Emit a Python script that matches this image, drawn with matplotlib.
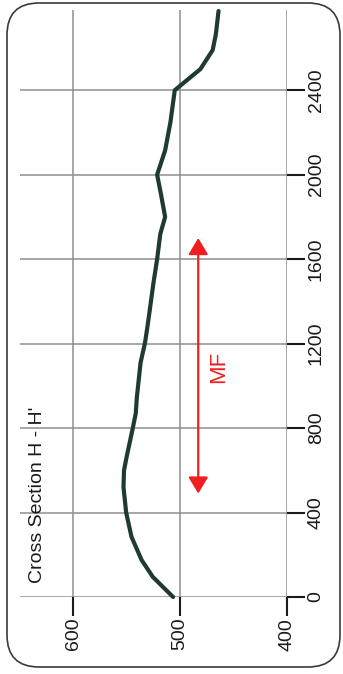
import matplotlib.pyplot as plt
from matplotlib.patches import FancyBboxPatch, FancyArrowPatch
from matplotlib.transforms import IdentityTransform

plt.rcParams['font.family'] = ['Liberation Sans', 'DejaVu Sans']

# profile along the section: distance (m) and ground elevation (m)
distance = [0, 95, 175, 285, 400, 520, 600, 665, 795, 870, 945, 1110,
            1200, 1265, 1355, 1485, 1600, 1720, 1800, 1910, 2000, 2115,
            2250, 2400, 2450, 2500, 2590, 2665, 2775]
elevation = [506.5, 525.5, 536, 545.5, 550.5, 553, 552.5, 550, 544.5, 541.5,
             540.5, 537, 533, 531, 528.5, 525, 521.5, 518.5, 514, 518,
             521.5, 514, 509, 505, 493, 481, 469.5, 466.5, 464]

dist_ticks = [0, 400, 800, 1200, 1600, 2000, 2400]
elev_ticks = [600, 500, 400]

# MF extent along the section
mf_start, mf_end, mf_elev = 490, 1700, 483

fig = plt.figure(figsize=(3.43, 6.74), dpi=100)

# rounded outer frame, drawn in pixel units
frame = FancyBboxPatch((7, 7), 333, 664, boxstyle="round,pad=0,rounding_size=32",
                       transform=IdentityTransform(), fill=False,
                       edgecolor='#3a3a3a', linewidth=1.2)
fig.patches.append(frame)

# chart is laid out sideways: elevation across, distance upward
ax = fig.add_axes([0.058, 0.1142, 0.7784, 0.871])
ax.set_xlim(650, 400)
ax.set_ylim(0, 2780)
for s in ax.spines.values():
    s.set_visible(False)

ax.set_xticks(elev_ticks)
ax.set_yticks(dist_ticks)
ax.grid(True, color='#8e8e8e', linewidth=1.1)
ax.set_axisbelow(True)

ax.tick_params(axis='x', bottom=True, length=14, width=1.5, pad=1,
               labelsize=14, labelrotation=90, colors='#1a1a1a')
ax.tick_params(axis='y', left=False, right=True, labelleft=False,
               labelright=True, length=13, width=1.5, pad=2,
               labelsize=14, labelrotation=90, colors='#1a1a1a')
for lab in ax.get_yticklabels():
    lab.set_verticalalignment('center')

ax.plot(elevation, distance, color='#1f3b30', linewidth=3,
        solid_capstyle='round', solid_joinstyle='round', clip_on=False)

arrow = FancyArrowPatch((mf_elev, mf_start), (mf_elev, mf_end),
                        arrowstyle='<|-|>,head_length=0.5,head_width=0.3',
                        mutation_scale=20, color='#f01e1e', linewidth=1.6,
                        shrinkA=0, shrinkB=0)
ax.add_patch(arrow)
ax.text(464, 1090, 'MF', color='#f01e1e', fontsize=16, rotation=90,
        ha='center', va='center')

ax.text(629, 66, "Cross Section H - H'", fontsize=14, rotation=90,
        rotation_mode='anchor', ha='left', va='baseline', color='#1a1a1a',
        clip_on=False)

fig.savefig('out.png', dpi=100)
